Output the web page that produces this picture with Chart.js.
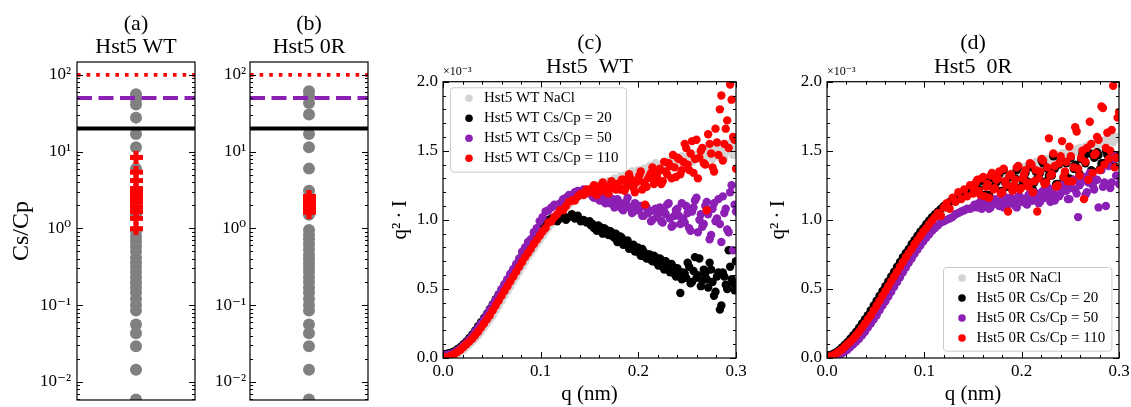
<!DOCTYPE html>
<html><head><meta charset="utf-8">
<script src="https://cdn.jsdelivr.net/npm/chart.js@4.4.1/dist/chart.umd.min.js"></script>
<style>
html,body{margin:0;padding:0;background:#fff;overflow:hidden;}
#wrap{position:relative;width:1131px;height:407px;overflow:hidden;background:#fff;}
canvas{position:absolute;top:0;}
</style></head><body>
<div id="wrap">
<canvas id="ca" width="272" height="407" style="left:0px"></canvas>
<canvas id="cb" width="208" height="407" style="left:205px"></canvas>
<canvas id="cc" width="419" height="407" style="left:380px"></canvas>
<canvas id="cd" width="426" height="407" style="left:760px"></canvas>
</div>
<script>
// ---------- data: panels (a) and (b) ----------
const thresholds = [20, 50, 100];
const grayWT = [56, 48, 41, 27.7, 16.9, 11.4, 6, 3.1, 2.0, 1.5, 0.91, 0.78, 0.68, 0.585, 0.5, 0.413, 0.356, 0.31, 0.265, 0.228, 0.195, 0.17, 0.146, 0.12, 0.1, 0.085, 0.056, 0.043, 0.029, 0.0144, 0.0059];
const crossWT = [8.4, 5.4, 4.2, 3.3, 2.85, 2.5, 2.2, 1.9, 1.65, 1.35, 0.99];
const grayOR = [61, 52.5, 43, 30.5, 16.9, 11.4, 6, 3.1, 2.0, 1.5, 0.95, 0.82, 0.72, 0.62, 0.53, 0.45, 0.40, 0.35, 0.31, 0.27, 0.23, 0.2, 0.17, 0.146, 0.12, 0.1, 0.085, 0.056, 0.043, 0.029, 0.0144, 0.0059];
const crossOR = [2.6, 2.45, 2.3, 2.15, 2.0, 1.88, 1.75, 1.62];
const logMajors = [0.01, 0.1, 1, 10, 100];

// ---------- data: panels (c) and (d), q in nm, q^2*I in units of 1e-3 ----------
const qGrid = [0.000,0.003,0.006,0.009,0.012,0.015,0.018,0.021,0.024,0.027,0.030,0.033,0.036,0.039,0.042,0.045,0.048,0.051,0.054,0.057,0.060,0.063,0.066,0.069,0.072,0.075,0.078,0.081,0.084,0.087,0.090,0.093,0.096,0.099,0.102,0.105,0.108,0.111,0.114,0.117,0.120,0.123,0.126,0.129,0.132,0.135,0.138,0.141,0.144,0.147,0.150,0.153,0.156,0.159,0.162,0.165,0.168,0.171,0.174,0.177,0.180,0.183,0.186,0.189,0.192,0.195,0.198,0.201,0.204,0.207,0.210,0.213,0.216,0.219,0.222,0.225,0.228,0.231,0.234,0.237,0.240,0.243,0.246,0.249,0.252,0.255,0.258,0.261,0.264,0.267,0.270,0.273,0.276,0.279,0.282,0.285,0.288,0.291,0.294,0.297,0.300];
const qHi = [0.1515,0.1545,0.1575,0.1605,0.1635,0.1665,0.1695,0.1725,0.1755,0.1785,0.1815,0.1845,0.1875,0.1905,0.1935,0.1965,0.1995,0.2025,0.2055,0.2085,0.2115,0.2145,0.2175,0.2205,0.2235,0.2265,0.2295,0.2325,0.2355,0.2385,0.2415,0.2445,0.2475,0.2505,0.2535,0.2565,0.2595,0.2625,0.2655,0.2685,0.2715,0.2745,0.2775,0.2805,0.2835,0.2865,0.2895,0.2925,0.2955,0.2985];
const qMajor = [0, 0.1, 0.2, 0.3];
const qMinor = [0.02,0.04,0.06,0.08,0.12,0.14,0.16,0.18,0.22,0.24,0.26,0.28];
const iMajor = [0, 0.5, 1.0, 1.5, 2.0];
const iMinor = [0.1,0.2,0.3,0.4,0.6,0.7,0.8,0.9,1.1,1.2,1.3,1.4,1.6,1.7,1.8,1.9];

const wtNaCl = [0.00,0.00,0.005,0.01,0.02,0.03,0.045,0.06,0.08,0.10,
0.12,0.14,0.165,0.19,0.22,0.25,0.28,0.31,0.345,0.38,
0.415,0.45,0.485,0.52,0.555,0.59,0.625,0.66,0.695,0.73,
0.76,0.79,0.825,0.855,0.885,0.915,0.945,0.97,1.00,1.02,
1.05,1.07,1.09,1.11,1.13,1.15,1.16,1.18,1.19,1.20,
1.21,1.22,1.23,1.24,1.24,1.26,1.25,1.27,1.28,1.27,
1.29,1.30,1.29,1.31,1.33,1.32,1.34,1.35,1.34,1.36,
1.38,1.36,1.39,1.37,1.40,1.38,1.41,1.39,1.43,1.40,
1.42,1.45,1.41,1.44,1.47,1.42,1.46,1.44,1.48,1.43,
1.47,1.50,1.44,1.49,1.46,1.52,1.45,1.51,1.55,1.47,
1.53];
const wtNaClHi = [1.23,1.22,1.25,1.24,1.27,1.26,1.28,1.27,1.30,1.29,1.31,1.30,1.33,1.32,1.35,1.33,1.36,1.35,1.37,1.36,1.39,1.37,1.41,1.38,1.40,1.42,1.39,1.43,1.41,1.44,1.42,1.46,1.43,1.45,1.48,1.44,1.47,1.45,1.50,1.46,1.49,1.47,1.52,1.48,1.50,1.54,1.49,1.52,1.56,1.51];
const wt20 = [0.03,0.03,0.035,0.04,0.05,0.065,0.08,0.10,0.12,0.145,
0.17,0.20,0.23,0.26,0.29,0.32,0.355,0.39,0.425,0.46,
0.495,0.53,0.565,0.60,0.635,0.67,0.70,0.74,0.77,0.82,
0.85,0.88,0.91,0.94,0.96,0.98,1.00,1.01,1.02,0.99,
1.01,1.03,1.00,1.02,1.04,1.01,1.03,0.99,1.00,0.98,
0.99,0.97,0.95,0.96,0.93,0.94,0.91,0.92,0.88,0.90,
0.86,0.87,0.83,0.85,0.80,0.82,0.78,0.76,0.79,0.73,
0.75,0.71,0.74,0.69,0.72,0.66,0.70,0.64,0.68,0.61,
0.65,0.47,0.62,0.58,0.66,0.55,0.73,0.60,0.52,0.64,
0.57,0.69,0.55,0.48,0.62,0.38,0.59,0.50,0.66,0.54,
0.70];
const wt20Hi = [0.96,0.94,0.92,0.95,0.90,0.93,0.89,0.91,0.87,0.84,0.88,0.82,0.84,0.79,0.81,0.77,0.80,0.74,0.77,0.72,0.75,0.70,0.73,0.67,0.71,0.64,0.68,0.62,0.66,0.59,0.63,0.57,0.61,0.69,0.54,0.63,0.58,0.72,0.56,0.61,0.51,0.64,0.45,0.59,0.35,0.62,0.53,0.78,0.57,0.49];
const wt50 = [0.02,0.02,0.025,0.03,0.04,0.055,0.07,0.09,0.11,0.135,
0.16,0.19,0.22,0.25,0.28,0.315,0.35,0.385,0.42,0.46,
0.50,0.535,0.57,0.61,0.645,0.68,0.72,0.77,0.80,0.84,
0.86,0.91,0.94,0.99,1.02,1.06,1.07,1.09,1.11,1.10,
1.12,1.15,1.16,1.18,1.17,1.20,1.21,1.20,1.22,1.20,
1.19,1.17,1.20,1.15,1.18,1.13,1.16,1.12,1.15,1.10,
1.13,1.08,1.12,1.16,1.09,1.06,1.11,1.08,1.03,1.10,
1.05,0.99,1.07,1.02,1.09,0.98,1.04,1.12,0.95,1.03,
1.08,0.97,1.01,1.10,0.94,1.06,1.14,0.91,1.04,0.97,
1.13,0.86,1.08,0.99,1.15,0.84,1.05,0.93,1.20,0.78,
1.06];
const wt50Hi = [1.21,1.16,1.19,1.14,1.17,1.12,1.18,1.14,1.09,1.15,1.11,1.07,1.13,1.09,1.05,1.12,1.07,1.10,1.03,1.09,1.06,1.00,1.08,1.04,0.99,1.06,1.11,1.01,0.96,1.07,1.03,1.12,0.98,1.05,0.92,1.09,1.16,1.00,0.95,1.10,1.04,0.89,1.12,1.01,0.97,1.17,1.08,0.91,1.25,1.11];
const wt110 = [0.00,0.005,0.01,0.02,0.03,0.045,0.06,0.08,0.10,0.12,
0.14,0.165,0.19,0.22,0.25,0.28,0.31,0.345,0.38,0.415,
0.45,0.485,0.52,0.555,0.59,0.625,0.66,0.695,0.73,0.76,
0.79,0.825,0.855,0.885,0.915,0.94,0.98,0.99,1.02,1.04,
1.07,1.07,1.10,1.13,1.14,1.14,1.17,1.19,1.18,1.22,
1.20,1.23,1.19,1.24,1.21,1.25,1.20,1.23,1.26,1.22,
1.24,1.29,1.21,1.25,1.30,1.23,1.27,1.32,1.22,1.11,
1.30,1.34,1.26,1.31,1.37,1.28,1.35,1.41,1.30,1.38,
1.45,1.33,1.42,1.52,1.36,1.57,1.44,1.30,1.50,1.41,
1.07,1.55,1.38,1.66,1.47,1.90,1.55,1.72,1.98,1.60,
1.37];
const wt110Hi = [1.22,1.25,1.18,1.22,1.27,1.24,1.19,1.28,1.23,1.26,1.22,1.29,1.24,1.33,1.26,1.20,1.29,1.35,1.27,1.24,1.32,1.38,1.29,1.35,1.26,1.42,1.33,1.39,1.47,1.31,1.44,1.36,1.55,1.40,1.48,1.34,1.58,1.45,1.52,1.40,1.62,1.48,1.35,1.56,1.80,1.43,1.66,1.52,1.87,1.58];

const orNaCl = [-0.01,0.005,0.015,0.025,0.04,0.055,0.075,0.095,0.115,0.135,
0.16,0.185,0.215,0.245,0.275,0.305,0.34,0.375,0.41,0.445,
0.48,0.515,0.55,0.585,0.62,0.655,0.69,0.725,0.755,0.785,
0.82,0.85,0.88,0.91,0.935,0.965,0.99,1.015,1.035,1.055,
1.075,1.095,1.115,1.135,1.15,1.165,1.18,1.19,1.20,1.21,
1.22,1.23,1.24,1.25,1.25,1.27,1.26,1.28,1.29,1.28,
1.30,1.31,1.30,1.32,1.34,1.33,1.35,1.36,1.37,1.38,
1.40,1.39,1.41,1.42,1.41,1.43,1.44,1.43,1.45,1.46,
1.45,1.47,1.48,1.47,1.49,1.50,1.49,1.51,1.52,1.51,
1.53,1.54,1.52,1.55,1.56,1.54,1.57,1.58,1.56,1.60,
1.59];
const orNaClHi = [1.23,1.25,1.24,1.26,1.27,1.27,1.29,1.28,1.30,1.31,1.30,1.32,1.33,1.34,1.35,1.36,1.37,1.38,1.39,1.40,1.40,1.42,1.41,1.43,1.44,1.44,1.45,1.46,1.46,1.47,1.48,1.48,1.49,1.50,1.50,1.51,1.52,1.52,1.53,1.54,1.53,1.55,1.56,1.55,1.57,1.58,1.57,1.59,1.60,1.59];
const or20 = [0.02,0.02,0.03,0.04,0.055,0.075,0.095,0.115,0.14,0.165,
0.19,0.22,0.25,0.28,0.31,0.345,0.38,0.415,0.45,0.485,
0.52,0.555,0.59,0.625,0.66,0.695,0.73,0.76,0.79,0.825,
0.855,0.885,0.915,0.94,0.97,0.995,1.02,1.04,1.06,1.08,
1.10,1.11,1.13,1.14,1.16,1.17,1.18,1.19,1.20,1.21,
1.20,1.26,1.22,1.28,1.18,1.25,1.30,1.23,1.27,1.33,
1.21,1.27,1.24,1.31,1.24,1.36,1.23,1.29,1.34,1.25,
1.38,1.27,1.30,1.34,1.41,1.28,1.32,1.32,1.37,1.26,
1.44,1.30,1.41,1.30,1.29,1.40,1.36,1.44,1.45,1.50,
1.48,1.35,1.46,1.47,1.41,1.41,1.47,1.49,1.43,1.46,
1.45];
const or20Hi = [1.23,1.28,1.19,1.30,1.25,1.18,1.33,1.24,1.29,1.21,1.36,1.26,1.31,1.22,1.30,1.38,1.24,1.32,1.28,1.40,1.22,1.35,1.31,1.43,1.27,1.37,1.33,1.46,1.26,1.40,1.42,1.34,1.30,1.45,1.37,1.38,1.33,1.48,1.41,1.31,1.36,1.45,1.49,1.37,1.41,1.50,1.43,1.47,1.39,1.46];
const or50 = [0.00,0.00,0.005,0.01,0.02,0.03,0.045,0.06,0.08,0.10,
0.12,0.14,0.165,0.19,0.22,0.25,0.28,0.31,0.345,0.38,
0.41,0.445,0.48,0.515,0.55,0.585,0.62,0.655,0.69,0.72,
0.755,0.785,0.815,0.845,0.87,0.895,0.92,0.94,0.96,0.98,
0.99,1.00,1.01,1.02,1.04,1.05,1.06,1.07,1.08,1.08,
1.09,1.10,1.12,1.08,1.13,1.11,1.09,1.14,1.12,1.10,
1.15,1.13,1.11,1.16,1.14,1.09,1.17,1.15,1.12,1.18,
1.14,1.20,1.16,1.13,1.21,1.17,1.23,1.18,1.14,1.24,
1.19,1.26,1.21,1.15,1.28,1.22,1.02,1.27,1.31,1.20,
1.34,1.25,1.29,1.09,1.36,1.27,1.40,1.23,1.47,1.32,
1.26];
const or50Hi = [1.11,1.09,1.13,1.10,1.14,1.08,1.12,1.15,1.11,1.13,1.09,1.16,1.12,1.14,1.10,1.17,1.13,1.15,1.11,1.19,1.14,1.17,1.12,1.20,1.16,1.22,1.13,1.19,1.24,1.17,1.21,1.26,1.15,1.23,1.29,1.19,1.25,1.31,1.18,1.27,1.33,1.22,1.29,1.36,1.24,1.10,1.39,1.27,1.44,1.32];
const or110 = [0.005,0.01,0.02,0.03,0.045,0.06,0.08,0.10,0.12,0.14,
0.165,0.19,0.22,0.25,0.28,0.31,0.345,0.38,0.415,0.45,
0.485,0.52,0.555,0.59,0.625,0.66,0.695,0.73,0.76,0.79,
0.825,0.855,0.885,0.915,0.94,0.97,0.995,1.02,1.05,1.03,
1.09,1.12,1.08,1.16,1.13,1.20,1.15,1.22,1.17,1.25,
1.19,1.27,1.21,1.30,1.17,1.26,1.32,1.22,1.29,1.35,
1.20,1.28,1.06,1.33,1.25,1.38,1.22,1.30,1.36,1.24,
1.40,1.28,1.06,1.35,1.43,1.27,1.59,1.33,1.39,1.25,
1.46,1.31,1.42,1.53,1.28,1.67,1.37,1.45,1.15,1.52,
1.71,1.34,1.48,1.58,1.82,1.40,1.63,1.50,1.97,1.45,
1.78];
const or110Hi = [1.22,1.29,1.18,1.31,1.24,1.16,1.34,1.23,1.30,1.19,1.37,1.25,1.32,1.21,1.29,1.39,1.23,1.33,1.27,1.41,1.20,1.36,1.30,1.44,1.26,1.38,1.32,1.48,1.24,1.41,1.57,1.35,1.28,1.46,1.38,1.64,1.32,1.50,1.42,1.29,1.55,1.47,1.60,1.36,1.81,1.52,1.44,1.65,1.38,1.74];

// ---------- styling ----------
const SERIF = '"Liberation Serif", "DejaVu Serif", serif';
Chart.defaults.font.family = SERIF;
Chart.defaults.color = '#000';
const GRAYDOT = '#808080', LIGHT = '#d3d3d3', PURPLE = '#8c1fb4', RED = '#ff0000';

const SUP = {'-':'\u207B','0':'\u2070','1':'\u00B9','2':'\u00B2','3':'\u00B3','4':'\u2074','5':'\u2075','6':'\u2076','7':'\u2077','8':'\u2078','9':'\u2079'};
function pow10Label(v){ const e = Math.round(Math.log10(v)); return '10' + String(e).split('').map(c => SUP[c]).join(''); }
function logMinors(min, max){ const out = []; for (let e = -3; e <= 2; e++) for (let m = 2; m <= 9; m++) { const v = m * Math.pow(10, e); if (v > min && v < max) out.push(v); } return out; }

const plusMarker = (() => { const c = document.createElement('canvas'); c.width = 13; c.height = 13; const g = c.getContext('2d'); g.fillStyle = RED; g.fillRect(4, 0, 5, 13); g.fillRect(0, 4, 13, 5); return c; })();

// inward ticks on all sides + frame + offset text
const frameTicks = {
  id: 'frameTicks',
  afterDatasetsDraw(chart, args, o) {
    const {ctx, chartArea: a} = chart;
    const xs = chart.scales.x, ys = chart.scales.y;
    ctx.save();
    ctx.strokeStyle = '#000'; ctx.lineWidth = 1;
    ctx.beginPath();
    const hy = (v, len) => { const p = Math.round(ys.getPixelForValue(v)) + 0.5; if (p < a.top - 1 || p > a.bottom + 1) return; ctx.moveTo(a.left, p); ctx.lineTo(a.left + len, p); ctx.moveTo(a.right, p); ctx.lineTo(a.right - len, p); };
    const vx = (v, len) => { const p = Math.round(xs.getPixelForValue(v)) + 0.5; if (p < a.left - 1 || p > a.right + 1) return; ctx.moveTo(p, a.bottom); ctx.lineTo(p, a.bottom - len); ctx.moveTo(p, a.top); ctx.lineTo(p, a.top + len); };
    ys.ticks.forEach(t => hy(t.value, 6));
    (o.yMinor || []).forEach(v => hy(v, 3));
    if (o.xTicks) { xs.ticks.forEach(t => vx(t.value, 6)); (o.xMinor || []).forEach(v => vx(v, 3)); }
    ctx.stroke();
    ctx.lineWidth = 1.2;
    ctx.strokeRect(a.left, a.top, a.right - a.left, a.bottom - a.top);
    if (o.offsetText) { ctx.font = '12px ' + SERIF; ctx.fillStyle = '#000'; ctx.textAlign = 'left'; ctx.textBaseline = 'middle'; ctx.fillText(o.offsetText, a.left, a.top - 10); }
    ctx.restore();
  }
};

// matplotlib-like legend drawn inside the axes
const boxLegend = {
  id: 'boxLegend',
  afterDatasetsDraw(chart, args, o) {
    if (!o || !o.display) return;
    const {ctx, chartArea: a} = chart;
    const x0 = o.anchor === 'tl' ? a.left + o.dx : a.right - o.dx - o.w;
    const y0 = o.anchor === 'tl' ? a.top + o.dy : a.bottom - o.dy - o.h;
    ctx.save();
    ctx.beginPath();
    if (ctx.roundRect) ctx.roundRect(x0 + 0.5, y0 + 0.5, o.w, o.h, 3); else ctx.rect(x0 + 0.5, y0 + 0.5, o.w, o.h);
    ctx.fillStyle = 'rgba(255,255,255,0.8)'; ctx.fill();
    ctx.strokeStyle = '#cccccc'; ctx.lineWidth = 1; ctx.stroke();
    ctx.font = '15px ' + SERIF; ctx.textAlign = 'left'; ctx.textBaseline = 'middle';
    chart.data.datasets.forEach((d, i) => {
      const y = y0 + o.first + i * o.step;
      ctx.beginPath(); ctx.arc(x0 + o.mx, y, 3.8, 0, Math.PI * 2); ctx.fillStyle = d.backgroundColor; ctx.fill();
      ctx.fillStyle = '#000'; ctx.fillText(d.label, x0 + o.tx, y);
    });
    ctx.restore();
  }
};

function dummyRight(w) {
  return {type: 'linear', position: 'right', display: true, grid: {display: false, drawTicks: false}, border: {display: false}, ticks: {display: false},
    afterFit: s => { s.width = w; s.paddingTop = 0; s.paddingBottom = 0; }};
}

function stripChart(id, letter, name, gray, crosses, yW, tickPad, yTitle) {
  const hline = (v, color, width, dash) => ({data: [{x: -1, y: v}, {x: 1, y: v}], showLine: true, borderColor: color, borderWidth: width, borderDash: dash, borderCapStyle: 'butt', pointRadius: 0, fill: false, order: 1, clip: 0});
  return new Chart(document.getElementById(id), {
    type: 'scatter',
    data: {datasets: [
      {label: 'Cs/Cp', data: gray.map(v => ({x: 0, y: v})), pointRadius: 6, pointHoverRadius: 6, backgroundColor: GRAYDOT, borderWidth: 0, order: 3, clip: 0},
      {label: 'cross', data: crosses.map(v => ({x: 0, y: v})), pointStyle: plusMarker, pointRadius: 6, order: 2, clip: 0},
      hline(thresholds[0], '#000000', 4, []),
      hline(thresholds[1], PURPLE, 4, [15, 6.5]),
      hline(thresholds[2], RED, 3.6, [3.6, 6])
    ]},
    options: {
      animation: false, responsive: false, devicePixelRatio: 1, events: [],
      layout: {padding: {left: 0, right: 0, top: 0, bottom: 3}},
      plugins: {
        legend: {display: false}, tooltip: {enabled: false},
        title: {display: true, text: [letter, name], color: '#000', font: {size: 22, weight: 'normal', lineHeight: 23 / 22}, padding: {top: 12.5, bottom: 3.5}},
        frameTicks: {yMinor: logMinors(0.0058, 147), xTicks: false},
        boxLegend: {display: false}
      },
      scales: {
        x: {type: 'linear', min: -1, max: 1, display: false},
        y: {type: 'logarithmic', position: 'left', min: 0.0058, max: 147,
          afterBuildTicks: s => { s.ticks = logMajors.map(v => ({value: v})); },
          afterFit: s => { s.width = yW; s.paddingTop = 0; s.paddingBottom = 0; },
          grid: {display: false, drawTicks: false}, border: {display: false},
          ticks: {autoSkip: false, padding: tickPad, font: {size: 17}, color: '#000', callback: v => pow10Label(v)},
          title: {display: !!yTitle, text: yTitle || '', color: '#000', font: {size: 24}, padding: {top: 7.6, bottom: 0}}
        },
        y2: dummyRight(yW)
      }
    },
    plugins: [frameTicks, boxLegend]
  });
}

function pts(vals, hi) { return qGrid.map((x, i) => ({x, y: vals[i]})).concat(qHi.map((x, i) => ({x, y: hi[i]}))); }

function saxsChart(id, letter, name, series, legendOpts, yW, yTitlePad) {
  return new Chart(document.getElementById(id), {
    type: 'scatter',
    data: {datasets: series.map(s => ({label: s.label, data: pts(s.main, s.hi), backgroundColor: s.color, borderWidth: 0, pointRadius: 4.2, pointHoverRadius: 4.2, order: s.order, clip: 0}))},
    options: {
      animation: false, responsive: false, devicePixelRatio: 1, events: [],
      layout: {padding: 0},
      plugins: {
        legend: {display: false}, tooltip: {enabled: false},
        title: {display: true, text: [letter, name], color: '#000', font: {size: 22, weight: 'normal', lineHeight: 24 / 22}, padding: {top: 31, bottom: 2.7}},
        frameTicks: {yMinor: iMinor, xTicks: true, xMinor: qMinor, offsetText: '\u00D710\u207B\u00B3'},
        boxLegend: legendOpts
      },
      scales: {
        x: {type: 'linear', min: 0, max: 0.3,
          afterBuildTicks: s => { s.ticks = qMajor.map(v => ({value: v})); },
          afterFit: s => { s.height = 49; s.paddingLeft = 0; s.paddingRight = 0; },
          grid: {display: false, drawTicks: false}, border: {display: false},
          ticks: {autoSkip: false, maxRotation: 0, padding: 3.5, font: {size: 17}, color: '#000', callback: v => Number(v).toFixed(1)},
          title: {display: true, text: 'q (nm)', color: '#000', font: {size: 21}, padding: {top: 0, bottom: 0}}
        },
        y: {type: 'linear', position: 'left', min: 0, max: 2,
          afterBuildTicks: s => { s.ticks = iMajor.map(v => ({value: v})); },
          afterFit: s => { s.width = yW; s.paddingTop = 0; s.paddingBottom = 0; },
          grid: {display: false, drawTicks: false}, border: {display: false},
          ticks: {autoSkip: false, padding: 5, font: {size: 17}, color: '#000', callback: v => Number(v).toFixed(1)},
          title: {display: true, text: 'q\u00B2\u2009\u00B7\u2009I', color: '#000', font: {size: 21}, padding: {top: yTitlePad, bottom: 0}}
        },
        y2: dummyRight(yW)
      }
    },
    plugins: [frameTicks, boxLegend]
  });
}

stripChart('ca', '(a)', 'Hst5 WT', grayWT, crossWT, 77, 6, 'Cs/Cp');
stripChart('cb', '(b)', 'Hst5 0R', grayOR, crossOR, 45, 4, null);

saxsChart('cc', '(c)', 'Hst5  WT', [
  {label: 'Hst5 WT NaCl', color: LIGHT, main: wtNaCl, hi: wtNaClHi, order: 4},
  {label: 'Hst5 WT Cs/Cp = 20', color: '#000000', main: wt20, hi: wt20Hi, order: 3},
  {label: 'Hst5 WT Cs/Cp = 50', color: PURPLE, main: wt50, hi: wt50Hi, order: 2},
  {label: 'Hst5 WT Cs/Cp = 110', color: RED, main: wt110, hi: wt110Hi, order: 1}
], {display: true, anchor: 'tl', dx: 7, dy: 5.6, w: 176, h: 84.4, first: 11, step: 20, mx: 19, tx: 34}, 63, 7.4);

saxsChart('cd', '(d)', 'Hst5  0R', [
  {label: 'Hst5 0R NaCl', color: LIGHT, main: orNaCl, hi: orNaClHi, order: 4},
  {label: 'Hst5 0R Cs/Cp = 20', color: '#000000', main: or20, hi: or20Hi, order: 3},
  {label: 'Hst5 0R Cs/Cp = 50', color: PURPLE, main: or50, hi: or50Hi, order: 2},
  {label: 'Hst5 0R Cs/Cp = 110', color: RED, main: or110, hi: or110Hi, order: 1}
], {display: true, anchor: 'br', dx: 7.6, dy: 7.3, w: 168.4, h: 83.7, first: 11, step: 20, mx: 19, tx: 33.4}, 67, 5.4);
</script>
</body></html>
